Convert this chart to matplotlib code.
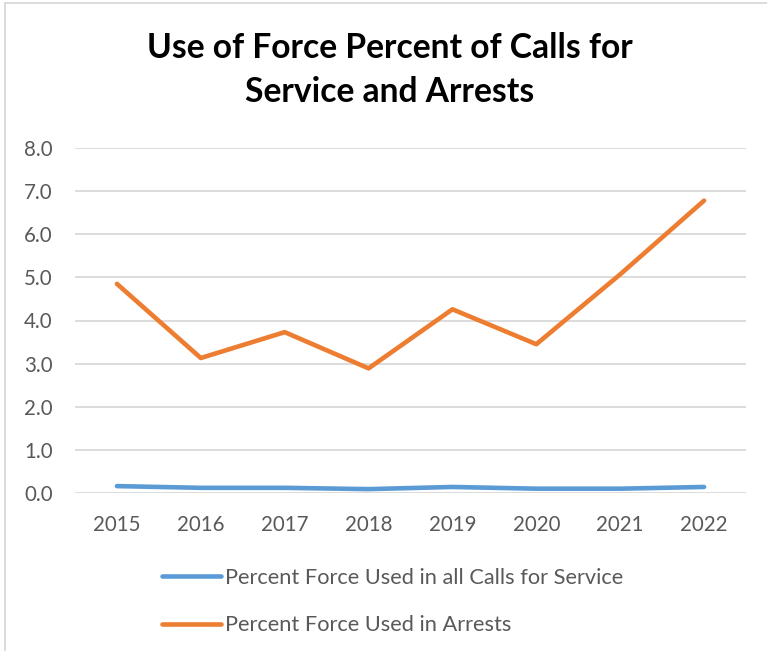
import matplotlib
matplotlib.use("Agg")
import matplotlib.pyplot as plt

years = ["2015", "2016", "2017", "2018", "2019", "2020", "2021", "2022"]
calls_pct = [0.16, 0.12, 0.12, 0.09, 0.14, 0.10, 0.10, 0.14]
arrests_pct = [4.85, 3.13, 3.73, 2.89, 4.26, 3.45, 5.07, 6.78]
y_ticks = [0, 1, 2, 3, 4, 5, 6, 7, 8]
title = "Use of Force Percent of Calls for\nService and Arrests"
labels = ["Percent Force Used in all Calls for Service", "Percent Force Used in Arrests"]

plt.rcParams['font.family'] = ['Lato', 'DejaVu Sans']

W, H = 767, 651
fig = plt.figure(figsize=(W / 100, H / 100), dpi=100)
fig.patch.set_facecolor("white")

ax = fig.add_axes([75 / W, 1 - 493 / H, (746 - 75) / W, (493 - 148) / H])
x = list(range(len(years)))
ax.plot(x, calls_pct, color="#5B9BD5", lw=3.3, solid_capstyle="round", solid_joinstyle="round", label=labels[0])
ax.plot(x, arrests_pct, color="#ED7D31", lw=3.3, solid_capstyle="round", solid_joinstyle="round", label=labels[1])

ax.set_xlim(-0.5, len(years) - 0.5)
ax.set_ylim(0, 8)
ax.set_yticks(y_ticks)
ax.set_yticklabels([f"{v:.1f}" for v in y_ticks])
ax.set_xticks(x)
ax.set_xticklabels(years)
ax.grid(axis="y", color="#D9D9D9", lw=1.3)
ax.set_axisbelow(True)
for s in ax.spines.values():
    s.set_visible(False)
ax.tick_params(axis="both", length=0, labelsize=14.8, colors="#595959")
ax.tick_params(axis="y", pad=16)
ax.tick_params(axis="x", pad=16)

fig.text(390 / W, 1 - 70 / H, title, ha="center", va="center", fontsize=24.2,
         fontweight="bold", color="black", linespacing=1.5)

fig.legend(loc="upper left", bbox_to_anchor=(162 / W, 1 - 568 / H), frameon=False,
           fontsize=15.7, handlelength=2.7, handletextpad=0.2, labelspacing=1.25,
           borderpad=0, borderaxespad=0, labelcolor="#595959")

# chart border (left and top)
fig.add_artist(plt.Line2D([5 / W, 5 / W], [0, 1 - 3 / H], transform=fig.transFigure, color="#D9D9D9", lw=1.3))
fig.add_artist(plt.Line2D([5 / W, 1], [1 - 3 / H, 1 - 3 / H], transform=fig.transFigure, color="#D9D9D9", lw=1.3))

fig.savefig("out.png", dpi=100)
